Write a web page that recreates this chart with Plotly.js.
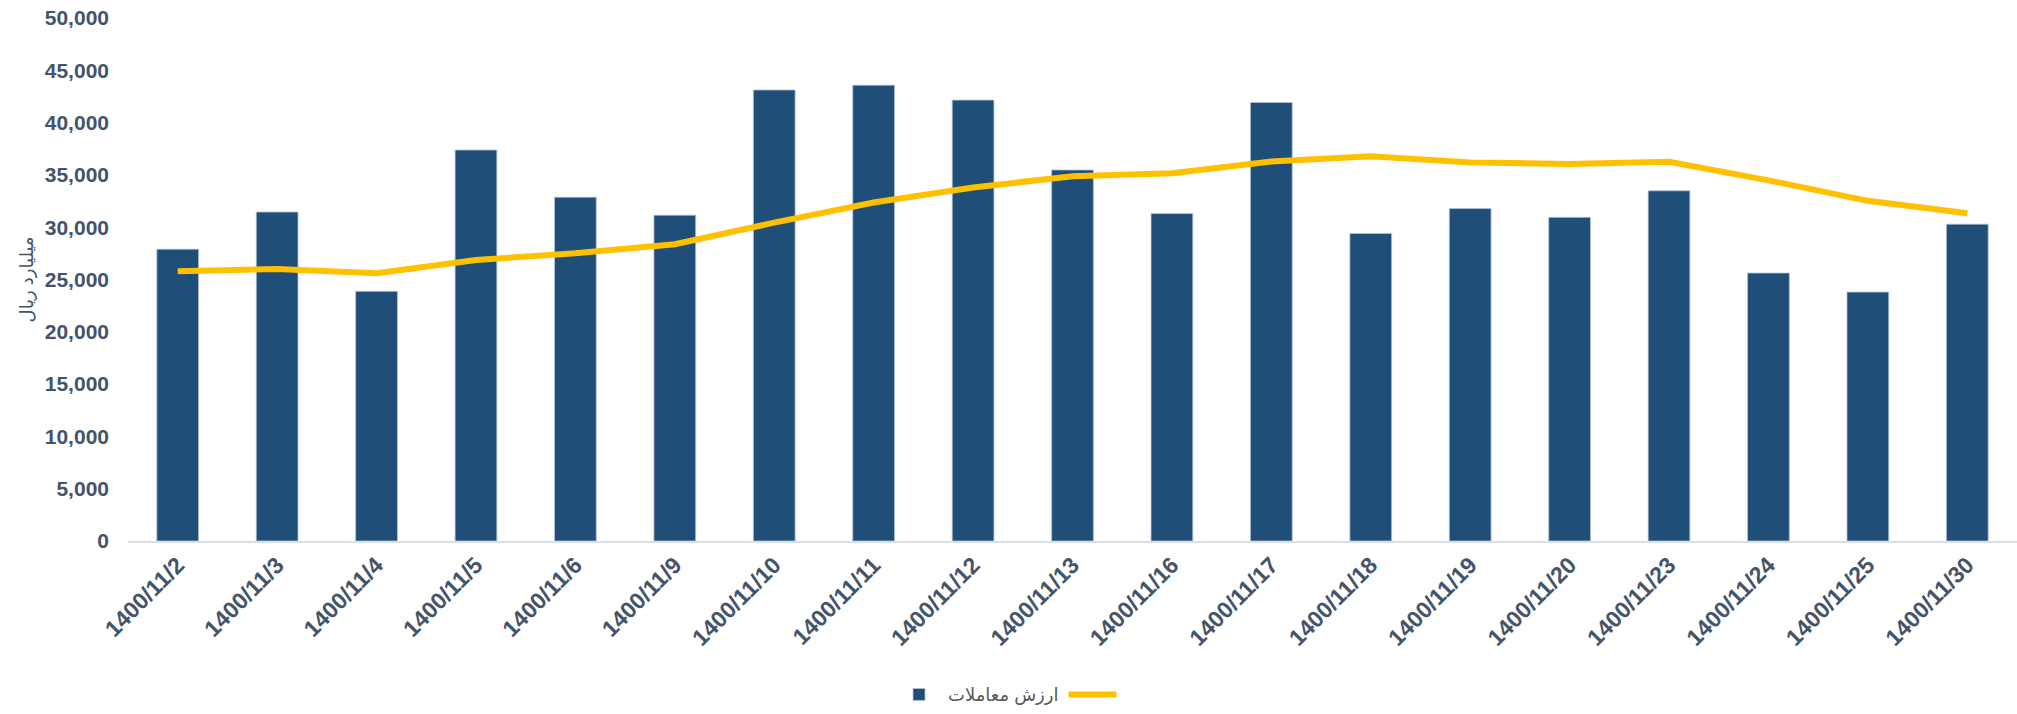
<!DOCTYPE html>
<html>
<head>
<meta charset="utf-8">
<script src="https://cdn.plot.ly/plotly-3.0.1.min.js"></script>
<style>html,body{margin:0;padding:0;background:#fff;}#chart{width:2017px;height:714px;}</style>
</head>
<body>
<div id="chart"></div>
<script>
const categories = ["1400/11/2","1400/11/3","1400/11/4","1400/11/5","1400/11/6","1400/11/9","1400/11/10","1400/11/11","1400/11/12","1400/11/13","1400/11/16","1400/11/17","1400/11/18","1400/11/19","1400/11/20","1400/11/23","1400/11/24","1400/11/25","1400/11/30"];
const tradeValue = [27900, 31450, 23870, 37380, 32870, 31150, 43120, 43580, 42150, 35470, 31300, 41920, 29400, 31780, 30940, 33480, 25620, 23800, 30290];
const trendValue = [25780, 26000, 25590, 26870, 27510, 28370, 30440, 32360, 33790, 34880, 35160, 36290, 36780, 36190, 36040, 36260, 34480, 32520, 31340];
const barName = "ارزش معاملات";
const lineName = "";
const yTitle = "میلیارد ریال";
const yTickVals = [0, 5000, 10000, 15000, 20000, 25000, 30000, 35000, 40000, 45000, 50000];

const tickColor = "#44546A";
const fontFamily = "Arial, 'Liberation Sans', 'DejaVu Sans', sans-serif";

const traces = [
  {
    type: "bar",
    x: categories,
    y: tradeValue,
    name: barName,
    marker: {color: "#1F4E79", line: {color: "#B4C3D4", width: 0.8}},
    hoverinfo: "skip"
  },
  {
    type: "scatter",
    mode: "lines",
    x: categories,
    y: trendValue,
    name: lineName,
    line: {color: "#FFC000", width: 6},
    hoverinfo: "skip"
  }
];

const layout = {
  width: 2017,
  height: 714,
  margin: {l: 128, r: 0, t: 18, b: 173, pad: 0},
  paper_bgcolor: "#ffffff",
  plot_bgcolor: "#ffffff",
  font: {family: fontFamily, color: tickColor},
  bargap: 0.58,
  showlegend: true,
  legend: {
    orientation: "h",
    xref: "container",
    yref: "container",
    x: 0.5,
    xanchor: "center",
    y: 0.027,
    yanchor: "middle",
    font: {size: 18, color: "#595959", family: fontFamily},
    itemwidth: 48,
    traceorder: "normal"
  },
  xaxis: {
    type: "category",
    tickangle: -45,
    tickfont: {size: 23, color: tickColor, family: fontFamily, weight: "bold"},
    showgrid: false,
    zeroline: false,
    showline: true,
    linecolor: "#D9DFE8",
    linewidth: 1.5,
    ticks: "",
    automargin: false,
    fixedrange: true
  },
  yaxis: {
    range: [0, 50000],
    tickvals: yTickVals,
    tickformat: ",d",
    tickfont: {size: 21, color: tickColor, family: fontFamily, weight: "bold"},
    showgrid: false,
    zeroline: false,
    showline: false,
    ticks: "",
    ticklabelstandoff: 18,
    automargin: false,
    fixedrange: true,
    title: {text: yTitle, font: {size: 18, color: tickColor, family: fontFamily}, standoff: 6}
  }
};

Plotly.newPlot("chart", traces, layout, {displayModeBar: false, staticPlot: true});
</script>
</body>
</html>
